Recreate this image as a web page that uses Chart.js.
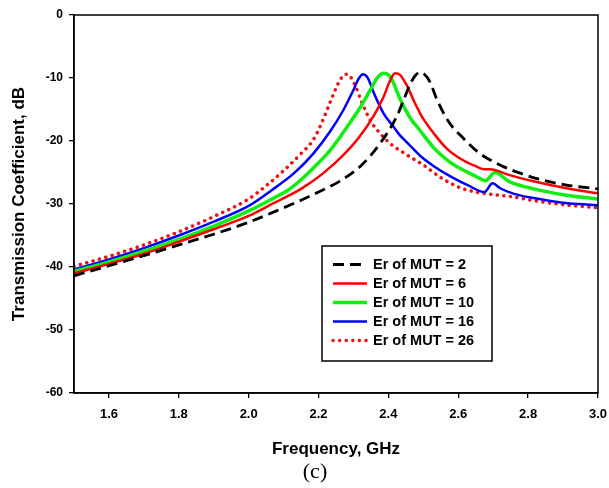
<!DOCTYPE html>
<html>
<head>
<meta charset="utf-8">
<script src="https://cdn.jsdelivr.net/npm/chart.js@4.4.0/dist/chart.umd.min.js"></script>
<style>
  html, body { margin: 0; padding: 0; background: #fff; }
  #wrap { width: 609px; height: 488px; }
</style>
</head>
<body>
<div id="wrap"><canvas id="chart" width="609" height="488"></canvas></div>
<script>
// Frequency (GHz) and transmission coefficient (dB)
const freqEr2 = [1.5, 1.6, 1.7, 1.8, 1.9, 2.0, 2.1, 2.15, 2.2, 2.26, 2.32, 2.376, 2.424, 2.445, 2.462, 2.477, 2.49, 2.503, 2.519, 2.538, 2.572, 2.615, 2.662, 2.719, 2.777, 2.834, 2.91, 3.0];
const dbEr2 = [-41.4, -39.8, -38.2, -36.5, -34.8, -32.9, -30.6, -29.4, -28.1, -26.4, -24.0, -20.4, -16.1, -13.3, -11.0, -9.6, -9.1, -9.4, -10.6, -13.3, -16.9, -19.6, -22.0, -23.8, -25.1, -26.1, -27.0, -27.6];

const freqEr6 = [1.5, 1.6, 1.7, 1.8, 1.9, 2.0, 2.07, 2.15, 2.214, 2.27, 2.315, 2.357, 2.386, 2.405, 2.419, 2.433, 2.452, 2.476, 2.5, 2.53, 2.567, 2.615, 2.65, 2.675, 2.69, 2.705, 2.74, 2.815, 2.91, 3.0];
const dbEr6 = [-41.0, -39.5, -37.9, -36.0, -34.0, -31.9, -29.9, -27.6, -25.1, -22.3, -19.5, -16.1, -13.0, -10.4, -9.26, -9.5, -11.1, -14.0, -16.5, -18.8, -21.2, -23.1, -24.0, -24.5, -24.5, -24.6, -25.3, -26.4, -27.5, -28.3];

const freqEr10 = [1.5, 1.6, 1.7, 1.8, 1.9, 2.0, 2.06, 2.118, 2.176, 2.233, 2.28, 2.32, 2.347, 2.368, 2.386, 2.4, 2.414, 2.433, 2.462, 2.49, 2.53, 2.57, 2.61, 2.65, 2.678, 2.705, 2.745, 2.815, 2.91, 3.0];
const dbEr10 = [-40.7, -39.2, -37.5, -35.6, -33.5, -31.1, -29.4, -27.6, -24.8, -21.5, -17.9, -14.6, -12.0, -10.0, -9.26, -9.5, -10.7, -13.3, -16.3, -18.3, -21.1, -23.1, -24.5, -25.6, -26.3, -25.0, -26.4, -27.6, -28.6, -29.2];

const freqEr16 = [1.5, 1.6, 1.7, 1.8, 1.9, 2.0, 2.066, 2.13, 2.185, 2.233, 2.27, 2.3, 2.315, 2.327, 2.34, 2.36, 2.386, 2.414, 2.43, 2.46, 2.49, 2.53, 2.58, 2.63, 2.675, 2.698, 2.72, 2.76, 2.82, 2.9, 3.0];
const dbEr16 = [-40.4, -38.8, -37.0, -35.0, -32.8, -30.3, -27.8, -25.1, -22.0, -18.5, -15.2, -11.9, -10.1, -9.4, -9.9, -12.6, -15.6, -17.7, -18.9, -20.6, -22.3, -24.0, -25.7, -27.1, -28.1, -26.7, -27.5, -28.4, -29.1, -29.8, -30.2];

const freqEr26 = [1.5, 1.6, 1.7, 1.8, 1.9, 2.0, 2.05, 2.1, 2.15, 2.185, 2.21, 2.235, 2.255, 2.268, 2.278, 2.29, 2.305, 2.325, 2.35, 2.375, 2.405, 2.45, 2.5, 2.55, 2.6, 2.65, 2.7, 2.75, 2.82, 2.9, 3.0];
const dbEr26 = [-39.9, -38.3, -36.5, -34.4, -32.0, -29.2, -27.1, -24.7, -22.0, -19.8, -17.0, -13.6, -11.0, -9.8, -9.4, -9.7, -11.2, -14.0, -16.9, -18.7, -20.4, -22.1, -23.8, -25.8, -27.3, -28.1, -28.5, -28.8, -29.5, -30.1, -30.6];

const seriesLabels = ["Er of MUT = 2", "Er of MUT = 6", "Er of MUT = 10", "Er of MUT = 16", "Er of MUT = 26"];
const xTicks = [1.6, 1.8, 2.0, 2.2, 2.4, 2.6, 2.8, 3.0];

const toPoints = (xs, ys) => xs.map((x, i) => ({ x: x, y: ys[i] }));

const boldFont = "'Liberation Sans', Arial, sans-serif";

// full box round the plot area
const frame = {
  id: "frame",
  afterDraw(chart) {
    const { ctx, chartArea: a } = chart;
    ctx.save();
    ctx.strokeStyle = "#000";
    ctx.lineWidth = 1.5;
    ctx.strokeRect(a.left, a.top, a.right - a.left, a.bottom - a.top);
    ctx.restore();
  }
};

// boxed legend inside the plot
const legendBox = {
  id: "legendBox",
  afterDraw(chart) {
    const ctx = chart.ctx;
    const bx = 322, by = 246, bw = 170, bh = 115;
    ctx.save();
    ctx.fillStyle = "#fff";
    ctx.fillRect(bx, by, bw, bh);
    ctx.strokeStyle = "#000";
    ctx.lineWidth = 1.5;
    ctx.strokeRect(bx, by, bw, bh);
    ctx.font = "bold 14.5px " + boldFont;
    ctx.textBaseline = "middle";
    chart.data.datasets.forEach((ds, i) => {
      const y = by + 18.5 + i * 19;
      ctx.strokeStyle = ds.borderColor;
      ctx.lineWidth = ds.borderWidth;
      ctx.lineCap = ds.borderCapStyle || "butt";
      ctx.setLineDash(ds.borderDash || []);
      ctx.beginPath();
      ctx.moveTo(bx + 11, y);
      ctx.lineTo(bx + 45, y);
      ctx.stroke();
      ctx.setLineDash([]);
      ctx.fillStyle = "#000";
      ctx.fillText(ds.label, bx + 51, y);
    });
    ctx.restore();
  }
};

// caption under the chart
const caption = {
  id: "caption",
  afterDraw(chart) {
    const ctx = chart.ctx;
    ctx.save();
    ctx.fillStyle = "#000";
    ctx.font = "22px 'Liberation Serif', 'Times New Roman', serif";
    ctx.textAlign = "center";
    ctx.textBaseline = "middle";
    ctx.fillText("(c)", 315, 472);
    ctx.restore();
  }
};

new Chart(document.getElementById("chart"), {
  type: "line",
  data: {
    datasets: [
      {
        label: seriesLabels[0],
        data: toPoints(freqEr2, dbEr2),
        borderColor: "#000000",
        borderWidth: 2.8,
        borderDash: [11, 6]
      },
      {
        label: seriesLabels[1],
        data: toPoints(freqEr6, dbEr6),
        borderColor: "#ff0000",
        borderWidth: 2.5
      },
      {
        label: seriesLabels[2],
        data: toPoints(freqEr10, dbEr10),
        borderColor: "#11ee11",
        borderWidth: 3.5
      },
      {
        label: seriesLabels[3],
        data: toPoints(freqEr16, dbEr16),
        borderColor: "#0000ff",
        borderWidth: 2.5
      },
      {
        label: seriesLabels[4],
        data: toPoints(freqEr26, dbEr26),
        borderColor: "#ee1111",
        borderWidth: 3.5,
        borderDash: [0.1, 6.5],
        borderCapStyle: "round"
      }
    ]
  },
  options: {
    responsive: false,
    animation: false,
    elements: {
      point: { radius: 0 },
      line: { cubicInterpolationMode: "monotone", fill: false }
    },
    layout: { padding: { top: 15, right: 11, left: 0, bottom: 0 } },
    plugins: {
      legend: { display: false },
      tooltip: { enabled: false }
    },
    scales: {
      x: {
        type: "linear",
        min: 1.5,
        max: 3.0,
        afterBuildTicks: s => { s.ticks = xTicks.map(v => ({ value: v })); },
        afterFit: s => { s.height = 95; s.paddingLeft = 0; s.paddingRight = 0; },
        grid: { drawOnChartArea: false, drawTicks: true, tickLength: 5, color: "#000", lineWidth: 1.3 },
        border: { display: true, color: "#000", width: 1.5 },
        ticks: {
          color: "#000",
          padding: 9,
          maxRotation: 0,
          autoSkip: false,
          font: { family: boldFont, size: 13, weight: "bold" },
          callback: v => Number(v).toFixed(1)
        },
        title: {
          display: true,
          text: "Frequency, GHz",
          color: "#000",
          font: { family: boldFont, size: 17, weight: "bold" },
          padding: { top: 0, bottom: 28 }
        }
      },
      y: {
        min: -60,
        max: 0,
        afterFit: s => { s.width = 74; s.paddingTop = 0; s.paddingBottom = 0; },
        grid: { drawOnChartArea: false, drawTicks: true, tickLength: 5, color: "#000", lineWidth: 1.3 },
        border: { display: true, color: "#000", width: 1.5 },
        ticks: {
          stepSize: 10,
          color: "#000",
          padding: 6,
          font: { family: boldFont, size: 12, weight: "bold" },
          callback: v => String(v)
        },
        title: {
          display: true,
          text: "Transmission Coefficient, dB",
          color: "#000",
          font: { family: boldFont, size: 17, weight: "bold" },
          padding: { top: 9, bottom: 0 }
        }
      }
    }
  },
  plugins: [frame, legendBox, caption]
});
</script>
</body>
</html>
